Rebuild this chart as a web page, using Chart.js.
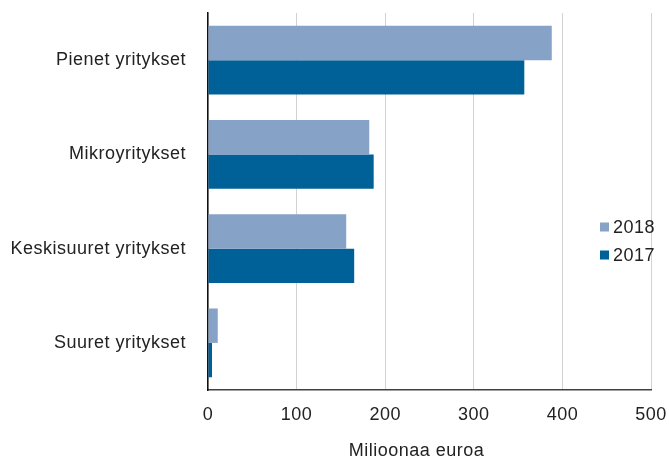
<!DOCTYPE html>
<html>
<head>
<meta charset="utf-8">
<script src="https://cdn.jsdelivr.net/npm/chart.js@4"></script>
<style>
  html, body { margin: 0; padding: 0; background: #fff; }
  #wrap { width: 669px; height: 459px; }
</style>
</head>
<body>
<div id="wrap"><canvas id="mycanvas"></canvas></div>
<script>
var categories = ['Pienet yritykset', 'Mikroyritykset', 'Keskisuuret yritykset', 'Suuret yritykset'];
var values2018 = [388, 182, 156, 11];
var values2017 = [357, 187, 165, 4.5];
var xTicks = [0, 100, 200, 300, 400, 500];
var xTitle = 'Milioonaa euroa';

var fontFamily = 'Arial, "Liberation Sans", sans-serif';
var fontSize = 18;

// the reference text is spaced a little wider than plain canvas text
var spacing = {
	id: 'spacing',
	beforeUpdate: function(chart) { chart.ctx.letterSpacing = '0.5px'; },
	beforeDraw: function(chart) { chart.ctx.letterSpacing = '0.5px'; }
};

// legend inside the plot at the right, and the axis title a bit left of centre
var extras = {
	id: 'extras',
	afterDraw: function(chart) {
		var ctx = chart.ctx;
		var area = chart.chartArea;
		var x = area.right - 51;
		var y = 227;
		ctx.save();
		ctx.font = fontSize + 'px ' + fontFamily;
		ctx.textBaseline = 'middle';
		chart.data.datasets.forEach(function(ds, i) {
			var cy = y + i * 28;
			ctx.fillStyle = ds.backgroundColor;
			ctx.fillRect(x, cy - 4.5, 9, 9);
			ctx.fillStyle = '#222';
			ctx.fillText(ds.label, x + 13, cy + 1);
		});
		ctx.textAlign = 'center';
		ctx.textBaseline = 'alphabetic';
		ctx.fillText(xTitle, (area.left + area.right) / 2 - 13, 456);
		ctx.restore();
	}
};

function noEdgePadding(scale) {
	scale.paddingTop = 0;
	scale.paddingBottom = 0;
	scale.paddingLeft = 0;
	scale.paddingRight = 0;
}

var chartdata = {
	labels: categories,
	datasets: [
		{ label: '2018', backgroundColor: '#86a2c6', data: values2018 },
		{ label: '2017', backgroundColor: '#006199', data: values2017 }
	]
};

new Chart(document.getElementById('mycanvas'), {
	type: 'bar',
	data: chartdata,
	plugins: [spacing, extras],
	options: {
		indexAxis: 'y',
		responsive: true,
		maintainAspectRatio: false,
		animation: false,
		layout: { padding: { top: 13, right: 18, left: 0, bottom: 0 } },
		datasets: { bar: { categoryPercentage: 0.73, barPercentage: 1 } },
		plugins: { legend: { display: false }, tooltip: { enabled: false } },
		scales: {
			x: {
				min: 0,
				max: 500,
				afterBuildTicks: function(scale) {
					scale.ticks = xTicks.map(function(v) { return { value: v }; });
				},
				afterFit: function(scale) { scale.height = 69; noEdgePadding(scale); },
				grid: { color: '#d2d2d2', borderDash: [2, 2], drawTicks: false },
				border: { display: true, color: '#404040', width: 1.5 },
				ticks: { color: '#222', font: { family: fontFamily, size: fontSize }, padding: 14 }
			},
			y: {
				afterFit: function(scale) { scale.width = 208; noEdgePadding(scale); },
				grid: { color: 'transparent', drawTicks: false },
				border: { display: true, color: '#111', width: 1.5 },
				ticks: { color: '#222', font: { family: fontFamily, size: fontSize }, padding: 22 }
			}
		}
	}
});
</script>
</body>
</html>
